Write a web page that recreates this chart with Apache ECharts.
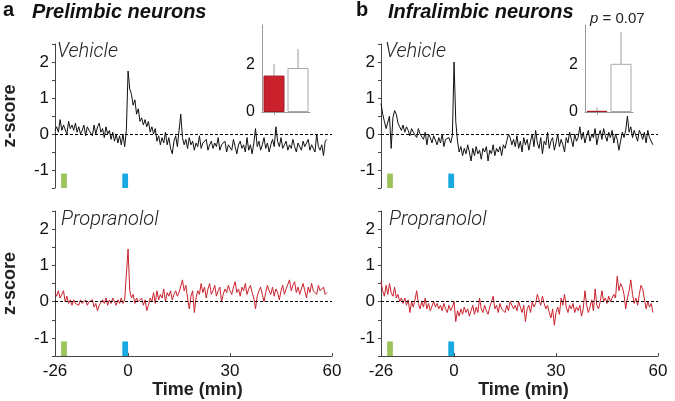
<!DOCTYPE html>
<html>
<head>
<meta charset="utf-8">
<script src="https://cdn.jsdelivr.net/npm/echarts@6/dist/echarts.min.js"></script>
<style>html,body{margin:0;padding:0;background:#fff}#c{width:675px;height:401px}</style>
</head>
<body>
<div id="c"></div>
<script>
// ---------- data ----------
// time axis: first bin is shown as "-26" (pre-injection period is drawn compressed)
const T0 = -21.5;
const DT = 0.5;
const X_TICKS = [-21.5, 0, 30, 60];
const X_TICK_LABELS = ['-26', '0', '30', '60'];
const Y_TICK_LABELS = [-1, 0, 1, 2];

const plVehicle = [
  0.1, 0.2, 0.05, 0.4, 0.1, 0.25, 0.3, 0.0, 0.35, 0.15,
  0.25, 0.1, 0.3, 0.05, 0.2, 0.0, 0.1, 0.25, -0.05, 0.2,
  0.1, 0.15, -0.05, 0.25, 0.0, 0.2, 0.3, 0.05, 0.15, -0.1,
  0.2, 0.0, 0.1, -0.15, 0.05, -0.2, 0.0, -0.25, -0.05, -0.3,
  0.0, -0.35, 0.1, 1.75, 1.25, 1.1, 0.8, 0.95, 0.55, 0.7,
  0.35, 0.45, 0.25, 0.4, 0.2, 0.35, 0.05, 0.2, 0.0, 0.15,
  -0.2, -0.05, -0.3, -0.1, -0.25, 0.05, -0.3, -0.1, -0.4, -0.55,
  -0.2, -0.05, -0.35, 0.1, 0.55, -0.1, -0.3, -0.15, -0.4, -0.1,
  -0.3, -0.2, -0.45, -0.25, -0.35, -0.05, -0.4, -0.25, -0.3, -0.15,
  -0.45, -0.3, -0.2, -0.4, -0.25, -0.35, -0.1, -0.45, -0.3, -0.35,
  -0.2, -0.5, -0.3, -0.25, -0.45, -0.15, -0.35, -0.55, -0.3, -0.2,
  -0.4, -0.3, -0.5, -0.1, -0.45, -0.3, -0.55, -0.25, 0.15, -0.35,
  -0.2, -0.45, -0.3, -0.1, -0.4, -0.25, -0.5, -0.3, -0.15, -0.35,
  0.2, -0.2, -0.35, -0.1, -0.4, -0.3, -0.2, -0.45, -0.3, -0.4,
  -0.15, -0.35, -0.5, -0.25, -0.3, -0.45, -0.2, -0.35, -0.4, -0.15,
  -0.45, -0.3, -0.25, -0.5, 0.0, -0.35, -0.45, -0.3, -0.6, -0.2,
  -0.15
];

const ilVehicle = [
  0.85, 0.55, 0.35, 0.15, 0.2, 0.5, -0.4, 0.45, 0.65, 0.55,
  0.3, 0.2, 0.1, 0.25, 0.05, 0.2, 0.1, -0.05, 0.15, 0.05,
  0.1, -0.1, 0.15, 0.0, 0.05, -0.15, 0.05, -0.3, 0.0, -0.1,
  -0.25, -0.05, 0.0, -0.3, -0.1, -0.25, 0.0, -0.35, -0.15, -0.2,
  -0.1, -0.25, -0.05, 2.0, 0.35, -0.2, -0.5, -0.35, -0.6, -0.4,
  -0.55, -0.3, -0.5, -0.75, -0.4, -0.6, -0.35, -0.55, -0.45, -0.7,
  -0.4, -0.5, -0.35, -0.75, -0.45, -0.55, -0.3, -0.6, -0.4, -0.5,
  -0.35, -0.6, -0.3, -0.4, -0.2, 0.0, -0.1, -0.3, -0.15, -0.35,
  -0.05, -0.4, -0.2, -0.5, -0.1, -0.3, -0.15, -0.45, -0.2, 0.0,
  -0.35, 0.1, -0.25, -0.4, -0.1, -0.55, -0.2, -0.3, 0.05, -0.4,
  -0.2, -0.1, -0.45, -0.25, 0.0, -0.35, -0.15, -0.3, -0.5, -0.1,
  -0.25, 0.05, -0.15, -0.35, 0.0, -0.2, -0.1, 0.2, -0.15, 0.05,
  -0.25, -0.05, 0.1, -0.2, 0.0, -0.1, 0.15, -0.3, -0.05, 0.1,
  -0.15, 0.15, -0.05, -0.2, 0.05, -0.1, 0.1, -0.25, 0.0, -0.15,
  -0.45, -0.2, 0.05, -0.1, 0.1, 0.5, 0.05, 0.2, -0.1, 0.1,
  -0.05, -0.2, 0.1, 0.0, -0.15, 0.05, -0.25, 0.1, -0.1, -0.05,
  -0.3
];

const plPropranolol = [
  0.25, 0.15, 0.3, 0.1, 0.2, 0.3, 0.0, 0.15, -0.05, 0.05,
  -0.1, 0.05, -0.05, 0.0, -0.1, 0.05, -0.05, 0.0, 0.05, -0.1,
  0.0, -0.05, 0.05, -0.15, -0.05, -0.25, -0.1, -0.15, 0.05, -0.05,
  0.1, -0.1, 0.05, -0.05, 0.1, 0.0, -0.1, 0.05, -0.05, 0.1,
  -0.05, 0.05, 0.0, 1.45, 0.3, 0.1, 0.2, -0.05, 0.1, 0.0,
  -0.05, 0.1, -0.1, 0.05, -0.25, -0.1, 0.1, 0.0, 0.25, -0.05,
  0.3, 0.05, 0.2, 0.1, 0.35, 0.0, 0.25, 0.15, 0.3, 0.05,
  0.2, 0.3, 0.15, 0.25, 0.2, 0.6, 0.3, 0.45, 0.1, -0.2,
  0.15, 0.3, -0.3, 0.1, 0.3, 0.2, 0.5, 0.25, 0.4, 0.1,
  0.35, 0.5, 0.2, 0.3, 0.45, 0.15, 0.3, 0.4, 0.0, 0.2,
  0.35, 0.25, 0.45, 0.3, 0.2, 0.4, 0.55, 0.25, 0.35, 0.15,
  0.4, 0.3, 0.5, 0.2, 0.35, 0.45, 0.25, 0.1, -0.2, 0.15,
  0.3, 0.4, 0.2, 0.0, 0.25, 0.45, 0.3, 0.2, 0.4, 0.15,
  0.35, 0.25, 0.05, 0.3, 0.45, 0.2, 0.35, 0.4, 0.6, 0.3,
  0.45, 0.55, 0.25, 0.4, 0.2, 0.35, 0.5, 0.3, 0.1, 0.4,
  0.25, 0.5, 0.3, 0.35, 0.2, 0.45, 0.3, 0.25, 0.4, 0.2,
  0.25
];

const ilPropranolol = [
  0.55, 0.3, 0.15, 0.45, 0.2, 0.5, 0.25, 0.15, 0.4, 0.1,
  0.2, 0.0, 0.1, -0.05, 0.1, -0.1, 0.05, -0.3, 0.0, -0.15,
  0.05, 0.3, -0.05, -0.2, 0.0, -0.15, 0.1, -0.2, -0.05, -0.25,
  -0.3, 0.0, -0.15, -0.05, -0.2, -0.1, -0.25, -0.05, -0.2, -0.3,
  -0.1, -0.25, -0.15, 0.0, -0.55, -0.25, -0.4, -0.2, -0.35, -0.15,
  -0.3, -0.2, -0.4, -0.25, -0.1, -0.35, -0.15, -0.3, 0.1, -0.2,
  -0.3, -0.1, -0.25, -0.35, -0.15, 0.0, 0.15, -0.2, -0.1, -0.3,
  -0.05, -0.2, -0.15, -0.3, -0.1, -0.25, 0.0, 0.05, -0.2, -0.1,
  -0.25, 0.0, -0.15, -0.3, -0.1, -0.55, -0.2, -0.1, -0.3, 0.0,
  -0.15, -0.05, 0.2, 0.05, -0.1, 0.15, -0.05, -0.2, -0.1, -0.3,
  -0.45, -0.2, -0.65, -0.3, -0.15, -0.35, 0.1, -0.1, 0.2, -0.15,
  -0.3, -0.1, -0.2, -0.05, -0.3, -0.15, -0.25, -0.1, -0.4, -0.2,
  0.3, -0.1, -0.3, -0.15, 0.05, -0.25, 0.35, -0.1, -0.2, 0.0,
  0.3, 0.0, 0.1, -0.05, 0.15, 0.0, 0.05, 0.2, 0.1, 0.7,
  0.3, 0.5, 0.4, 0.2, -0.2, 0.1, 0.3, 0.6, 0.2, -0.05,
  0.1, -0.1, 0.2, 0.45, 0.35, 0.3, -0.2, 0.0, -0.15, -0.05,
  -0.3
];

// stimulus markers (drawn in axis minutes, y range)
const GREEN_MARK = [-19.7, -18.0];
const BLUE_MARK = [-1.7, 0.0];
const MARK_Y = [-1.5, -1.1];

// inset bars: [propranolol, vehicle]
const BAR_CATS = ['Propranolol', 'Vehicle'];
const plBarMean = [1.55, 1.87];
const plBarTop  = [2.04, 2.68];
const ilBarMean = [0.05, 2.05];
const ilBarTop  = [0.2, 3.4];

// ---------- styling ----------
const FONT = "'Liberation Sans', Arial, Helvetica, sans-serif";
const AXIS_COLOR = '#444';
const RED = '#c9222c';
const BLACK = '#111';

const pairs = vals => vals.map((v, i) => [T0 + i * DT, v]);

const grids = [
  {left: 53, top: 44, width: 279, height: 144},   // TL
  {left: 381, top: 44, width: 277, height: 144},  // TR
  {left: 53, top: 211, width: 279, height: 145},  // BL
  {left: 381, top: 211, width: 277, height: 145}, // BR
  {left: 262, top: 25, width: 48, height: 87},    // inset L
  {left: 585, top: 25, width: 48, height: 87}     // inset R
];

function mkX(gi, bottom) {
  return {
    type: 'value', gridIndex: gi, min: -21.5, max: 60, show: bottom,
    splitLine: {show: false},
    axisLine: {show: bottom, onZero: false, lineStyle: {color: AXIS_COLOR, width: 1}},
    axisTick: {show: bottom, inside: true, length: 3, customValues: X_TICKS, lineStyle: {color: AXIS_COLOR}},
    axisLabel: {show: bottom, customValues: X_TICKS, margin: 7, fontSize: 17, color: '#111', fontFamily: FONT,
      formatter: v => { const k = X_TICKS.findIndex(t => Math.abs(t - v) < 1e-6); return k >= 0 ? X_TICK_LABELS[k] : ''; }},
    name: bottom ? 'Time (min)' : '', nameLocation: 'middle', nameGap: 25,
    nameTextStyle: {fontSize: 18, fontWeight: 'bold', color: '#222', fontFamily: FONT, padding: [0, 0, 0, 8]}
  };
}
function mkY(gi, named) {
  return {
    type: 'value', gridIndex: gi, min: -1.5, max: 2.5, interval: 0.5,
    splitLine: {show: false},
    axisLine: {show: true, onZero: false, lineStyle: {color: AXIS_COLOR, width: 1}},
    axisTick: {show: true, length: 3, lineStyle: {color: AXIS_COLOR}},
    axisLabel: {margin: 6, fontSize: 17, color: '#111', fontFamily: FONT,
      formatter: v => Y_TICK_LABELS.indexOf(v) >= 0 ? String(v) : ''},
    name: named ? 'z-score' : '', nameLocation: 'middle', nameGap: 36,
    nameTextStyle: {fontSize: 18, fontWeight: 'bold', color: '#222', fontFamily: FONT}
  };
}

function mkLine(gi, data, color) {
  return {
    type: 'line', xAxisIndex: gi, yAxisIndex: gi, data: pairs(data),
    showSymbol: false, silent: true, animation: false,
    lineStyle: {color: color, width: 1}, z: 3,
    markLine: {silent: true, symbol: 'none', label: {show: false},
      lineStyle: {color: '#000', width: 1, type: [3, 2]}, data: [{yAxis: 0}]},
    markArea: {silent: true, data: [
      [{xAxis: GREEN_MARK[0], yAxis: MARK_Y[0], itemStyle: {color: '#9cc35a'}}, {xAxis: GREEN_MARK[1], yAxis: MARK_Y[1]}],
      [{xAxis: BLUE_MARK[0], yAxis: MARK_Y[0], itemStyle: {color: '#19a9e1'}}, {xAxis: BLUE_MARK[1], yAxis: MARK_Y[1]}]
    ]}
  };
}

function mkInsetX(gi) {
  return {type: 'category', gridIndex: gi, data: BAR_CATS, boundaryGap: true,
    axisLine: {lineStyle: {color: '#999'}},
    axisTick: {show: true, alignWithLabel: true, length: 3, lineStyle: {color: '#999'}},
    axisLabel: {show: false}};
}
function mkInsetY(gi) {
  return {type: 'value', gridIndex: gi, min: 0, max: 3.7, interval: 1,
    splitLine: {show: false},
    axisLine: {show: true, lineStyle: {color: '#999'}},
    axisTick: {show: false},
    axisLabel: {margin: 7, fontSize: 16, color: '#111', fontFamily: FONT,
      formatter: v => (v === 0 || v === 2) ? String(v) : ''}};
}
function mkBars(gi, means) {
  return {type: 'bar', xAxisIndex: gi, yAxisIndex: gi, barWidth: 21, animation: false, silent: true,
    data: means.map((m, i) => ({value: m, itemStyle: i === 0
      ? {color: RED, borderColor: '#a31a22', borderWidth: 1}
      : {color: '#fff', borderColor: '#a8a8a8', borderWidth: 1}}))};
}
function mkErr(gi, means, tops) {
  return {type: 'custom', xAxisIndex: gi, yAxisIndex: gi, silent: true, animation: false, z: 1,
    data: means.map((m, i) => [i, m, tops[i]]),
    renderItem: (params, api) => {
      const a = api.coord([api.value(0), api.value(1)]);
      const b = api.coord([api.value(0), api.value(2)]);
      return {type: 'line', shape: {x1: a[0], y1: a[1], x2: b[0], y2: b[1]},
        style: {stroke: '#9a9a9a', lineWidth: 1}};
    }};
}

const italicLight = {fontFamily: "'Roboto', 'Open Sans', sans-serif", fontStyle: 'italic', fontWeight: 300, fontSize: 20, color: '#222'};
const boldTitle = {fontFamily: FONT, fontWeight: 'bold', fontSize: 20, color: '#111'};

const option = {
  backgroundColor: '#fff',
  animation: false,
  title: [
    {text: 'a', left: 3, top: 0, textStyle: boldTitle, padding: 0},
    {text: 'Prelimbic neurons', left: 32, top: 2, textStyle: Object.assign({}, boldTitle, {fontStyle: 'italic'}), padding: 0},
    {text: 'b', left: 356, top: 0, textStyle: boldTitle, padding: 0},
    {text: 'Infralimbic neurons', left: 388, top: 2, textStyle: Object.assign({}, boldTitle, {fontStyle: 'italic'}), padding: 0},
    {text: 'Vehicle', left: 57, top: 42, textStyle: italicLight, padding: 0},
    {text: 'Vehicle', left: 385, top: 42, textStyle: italicLight, padding: 0},
    {text: 'Propranolol', left: 61, top: 210, textStyle: italicLight, padding: 0},
    {text: 'Propranolol', left: 389, top: 210, textStyle: italicLight, padding: 0},
    {text: '{i|p} = 0.07', left: 590, top: 11, padding: 0,
      textStyle: {fontFamily: FONT, fontSize: 15, fontWeight: 'normal', color: '#222',
        rich: {i: {fontFamily: FONT, fontSize: 15, fontWeight: 'normal', fontStyle: 'italic', color: '#222'}}}}
  ],
  grid: grids,
  xAxis: [mkX(0, false), mkX(1, false), mkX(2, true), mkX(3, true), mkInsetX(4), mkInsetX(5)],
  yAxis: [mkY(0, true), mkY(1, false), mkY(2, true), mkY(3, false), mkInsetY(4), mkInsetY(5)],
  series: [
    mkLine(0, plVehicle, BLACK),
    mkLine(1, ilVehicle, BLACK),
    mkLine(2, plPropranolol, RED),
    mkLine(3, ilPropranolol, RED),
    mkBars(4, plBarMean), mkErr(4, plBarMean, plBarTop),
    mkBars(5, ilBarMean), mkErr(5, ilBarMean, ilBarTop)
  ]
};

const chart = echarts.init(document.getElementById('c'), null, {renderer: 'canvas'});
chart.setOption(option);
</script>
</body>
</html>
